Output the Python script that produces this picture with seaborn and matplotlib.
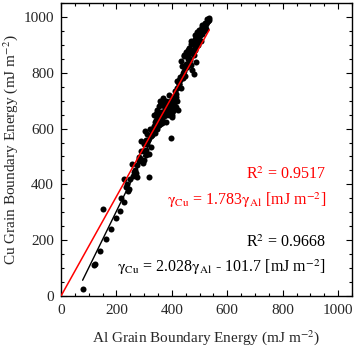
import matplotlib
matplotlib.use("Agg")
import matplotlib.pyplot as plt
import seaborn as sns
import numpy as np
import pandas as pd
from matplotlib.ticker import MultipleLocator

# Data
al_energy = [78, 118, 121, 142, 163, 179, 151, 199, 214, 227, 242, 246, 229, 259, 270, 276, 316,
             256, 283, 295, 300, 282, 307, 312, 324, 318, 303, 330, 290, 298, 305, 288, 310, 322,
             335, 340, 342, 355, 343, 361, 367, 343, 348, 337, 378, 390, 402, 397, 357, 390, 400,
             414, 423, 408, 416, 426, 432, 438, 444, 432, 450, 456, 468, 474, 480, 486, 470, 473,
             479, 485, 491, 497, 503, 509, 515, 521, 527, 533, 497, 491, 503, 345, 352, 358, 364,
             370, 376, 382, 350, 360, 372, 384, 395, 405, 366, 374, 380, 388, 330, 336, 326, 332,
             314, 320, 346, 354, 362, 368, 410, 418, 425, 430, 436, 442, 448, 455, 460, 465, 420,
             428, 445, 452, 462, 476, 484, 490, 496, 500, 506, 512, 518, 524, 530, 510, 516, 522,
             505, 494, 488, 482, 414, 420, 395, 404, 385, 376, 366, 357, 348, 339, 268, 262, 250,
             238, 234, 215, 300, 306, 282, 274, 465, 458, 448, 440, 427,
             352, 368, 384, 392, 340, 356, 372, 388, 404, 412, 498, 508, 520, 528, 535, 482, 470,
             458, 444, 436, 400, 380, 362]
cu_energy = [24, 110, 114, 162, 206, 239, 310, 280, 305, 337, 377, 385, 419, 429, 440, 428, 425,
             472, 498, 475, 488, 485, 522, 546, 535, 510, 591, 576, 520, 545, 560, 555, 580, 600,
             610, 594, 625, 618, 630, 642, 653, 653, 659, 647, 648, 648, 648, 568, 698, 719, 701,
             677, 665, 689, 713, 773, 747, 790, 808, 841, 832, 821, 827, 809, 797, 838, 904, 880,
             862, 892, 916, 940, 952, 964, 970, 976, 982, 990, 928, 946, 934, 605, 612, 628, 638,
             645, 660, 672, 640, 660, 680, 690, 700, 710, 620, 665, 700, 685, 590, 605, 575, 598,
             560, 572, 668, 680, 695, 708, 735, 745, 760, 775, 790, 800, 818, 830, 850, 870, 770,
             785, 860, 875, 890, 905, 920, 925, 935, 945, 955, 960, 965, 975, 985, 940, 950, 958,
             915, 900, 910, 880, 725, 700, 690, 675, 655, 670, 632, 616, 600, 585, 450, 445, 420,
             400, 392, 350, 520, 505, 490, 470, 845, 855, 790, 780, 760,
             635, 648, 660, 675, 622, 650, 686, 655, 662, 700, 955, 972, 980, 992, 995, 935, 915,
             880, 865, 825, 640, 625, 690]

red_slope = 1.783
black_slope, black_intercept = 2.028, -101.7
red_x = [0, 535]
black_x = [78, 533]

x_ticks = [0, 200, 400, 600, 800, 1000]
y_ticks = [0, 200, 400, 600, 800, 1000]

sns.set_style("ticks")
plt.rcParams['font.family'] = ['Liberation Serif', 'DejaVu Serif']
plt.rcParams['mathtext.fontset'] = 'stix'

fig = plt.figure(figsize=(3.58, 3.46), dpi=100)
ax = fig.add_axes([61/358, 1 - 296/346, (352-61)/358, (296-3)/346])

df = pd.DataFrame({"al": al_energy, "cu": cu_energy})
sns.scatterplot(data=df, x="al", y="cu", ax=ax, color="black", s=19, linewidth=0, zorder=3)

red_df = pd.DataFrame({"x": red_x, "y": [red_slope * v for v in red_x]})
black_df = pd.DataFrame({"x": black_x, "y": [black_slope * v + black_intercept for v in black_x]})
sns.lineplot(data=black_df, x="x", y="y", ax=ax, color="black", linewidth=1.0, zorder=4)
sns.lineplot(data=red_df, x="x", y="y", ax=ax, color="red", linewidth=1.1, zorder=5)

ax.set_xlim(0, 1050)
ax.set_ylim(0, 1050)
ax.set_xticks(x_ticks)
ax.set_yticks(y_ticks)
ax.xaxis.set_minor_locator(MultipleLocator(50))
ax.yaxis.set_minor_locator(MultipleLocator(50))
ax.tick_params(which="both", direction="in", top=True, right=True, labelsize=11, color="black")
ax.tick_params(which="major", length=4, width=0.8)
ax.tick_params(which="minor", length=2, width=0.8)
ax.tick_params(axis="x", which="major", pad=6)
ax.tick_params(axis="y", which="major", pad=5)
for sp in ax.spines.values():
    sp.set_visible(True)
    sp.set_color("black")
    sp.set_linewidth(1.0)

ax.set_xlabel(r"Al Grain Boundary Energy (mJ m$^{\mathrm{-2}}$)", fontsize=11, va="center")
ax.set_ylabel(r"Cu Grain Boundary Energy (mJ m$^{\mathrm{-2}}$)", fontsize=11, va="center")
ax.xaxis.set_label_coords(0.5, (296 - 338) / 293)
ax.yaxis.set_label_coords((11 - 61) / 291, 0.5)

ax.text(955, 433, r"R$^{\mathrm{2}}$ = 0.9517", color="red", ha="right", va="center", fontsize=11.5)
ax.text(955, 343, r"$\mathrm{\gamma}_{\mathrm{Cu}}$ = 1.783$\mathrm{\gamma}_{\mathrm{Al}}$ [mJ m$^{\mathrm{-2}}$]",
        color="red", ha="right", va="center", fontsize=11.5)
ax.text(955, 190, r"R$^{\mathrm{2}}$ = 0.9668", color="black", ha="right", va="center", fontsize=11.5)
ax.text(955, 104, r"$\mathrm{\gamma}_{\mathrm{Cu}}$ = 2.028$\mathrm{\gamma}_{\mathrm{Al}}$ - 101.7 [mJ m$^{\mathrm{-2}}$]",
        color="black", ha="right", va="center", fontsize=11.5)

fig.savefig("out.png", dpi=100)
